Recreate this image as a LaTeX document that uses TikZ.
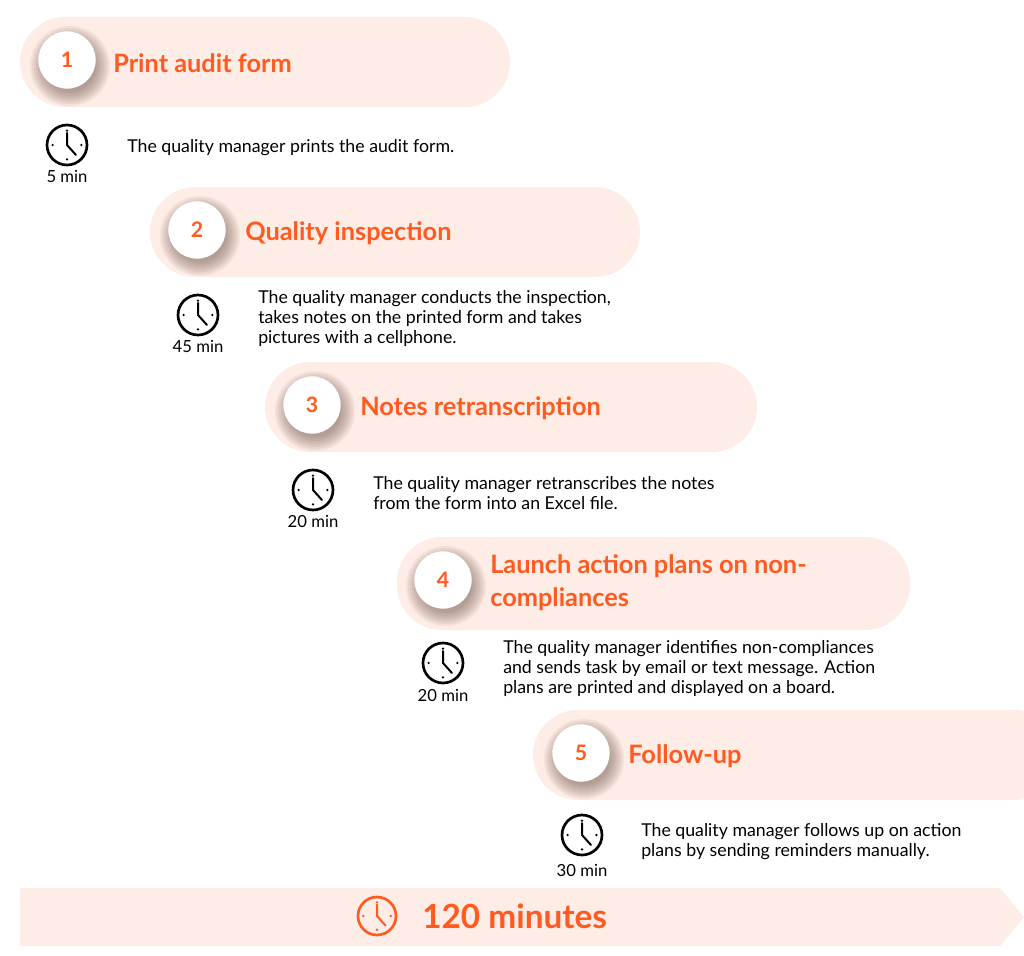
\documentclass[tikz,border=0pt]{standalone}
\usepackage{fontspec}
\setmainfont{Lato}
\definecolor{pill}{HTML}{FEEDE6}
\definecolor{org}{HTML}{FF5A1F}
\definecolor{shad}{HTML}{5A4038}
\tikzset{
 x=0.75pt,y=-0.75pt,
 pillbox/.style={fill=pill,rounded corners=33.75pt},
 numc/.style={circle,fill=white,minimum size=43pt,inner sep=0,text=org,font=\bfseries\fontsize{16}{18}\selectfont},
 ttl/.style={anchor=west,inner sep=0,text=org,font=\bfseries\fontsize{19}{25}\selectfont,align=left},
 desc/.style={anchor=west,inner sep=0,font=\fontsize{13.3}{15}\selectfont,align=left},
 mins/.style={font=\fontsize{12.5}{13}\selectfont},
}
\newcommand{\clk}[3]{% center, color, radius
 \draw[#2,line width=2pt] (#1) circle (#3);
 \draw[#2,line width=1.5pt,line cap=round] (#1) ++(0,-0.6*#3) -- (#1) -- ++(0.45*#3,0.5*#3);
 \foreach \a in {0,90,180,270}{\fill[#2] (#1) ++(\a:0.72*#3) circle (1pt);}
}
\newcommand{\softshadow}[1]{%
 \foreach \r in {40,38,...,26}{\fill[shad,opacity=0.07] (#1) ++(3,6) circle (\r);}
}
\begin{document}
\begin{tikzpicture}
\useasboundingbox (0,0) rectangle (1024,956);
% step 1
\fill[pillbox] (20,17) rectangle (510,107);
\coordinate (s1) at (67,60); \softshadow{s1}
\node[numc] (n1) at (s1) {1};
\node[ttl] (t1) at (113,63) {Print audit form};
\coordinate (c1) at (67,145); \clk{c1}{black}{20}
\node[mins] (m1) at (67,176) {5 min};
\node[desc] (d1) at (127,148) {The quality manager prints the audit form.};
% step 2
\fill[pillbox] (150,187) rectangle (640,277);
\coordinate (s2) at (197,230); \softshadow{s2}
\node[numc] (n2) at (s2) {2};
\node[ttl] (t2) at (245,233) {Quality inspection};
\coordinate (c2) at (198,315); \clk{c2}{black}{20}
\node[mins] (m2) at (198,346) {45 min};
\node[desc] (d2) at (258,318) {The quality manager conducts the inspection,\\takes notes on the printed form and takes\\pictures with a cellphone.};
% step 3
\fill[pillbox] (265,362) rectangle (757,452);
\coordinate (s3) at (312,405); \softshadow{s3}
\node[numc] (n3) at (s3) {3};
\node[ttl] (t3) at (360,408) {Notes retranscription};
\coordinate (c3) at (313,490); \clk{c3}{black}{20}
\node[mins] (m3) at (313,521) {20 min};
\node[desc] (d3) at (373,493) {The quality manager retranscribes the notes\\from the form into an Excel file.};
% step 4
\fill[pillbox] (397,537) rectangle (910,630);
\coordinate (s4) at (443,580); \softshadow{s4}
\node[numc] (n4) at (s4) {4};
\node[ttl] (t4) at (490,583) {Launch action plans on non-\\compliances};
\coordinate (c4) at (443,663); \clk{c4}{black}{20}
\node[mins] (m4) at (443,695) {20 min};
\node[desc] (d4) at (503,668) {The quality manager identifies non-compliances\\and sends task by email or text message. Action\\plans are printed and displayed on a board.};
% step 5
\fill[pillbox] (533,710) rectangle (1060,800);
\coordinate (s5) at (581,753); \softshadow{s5}
\node[numc] (n5) at (s5) {5};
\node[ttl] (t5) at (628,756) {Follow-up};
\coordinate (c5) at (582,835); \clk{c5}{black}{20}
\node[mins] (m5) at (582,870) {30 min};
\node[desc] (d5) at (641,842) {The quality manager follows up on action\\plans by sending reminders manually.};
% total bar
\fill[pill] (20,888) -- (1000,888) -- (1024,917) -- (1000,946) -- (20,946) -- cycle;
\coordinate (ct) at (377,916); \clk{ct}{org}{19}
\node[anchor=west,inner sep=0,text=org,font=\bfseries\fontsize{25}{28}\selectfont] (tot) at (422,916) {120 minutes};
\end{tikzpicture}
\end{document}
